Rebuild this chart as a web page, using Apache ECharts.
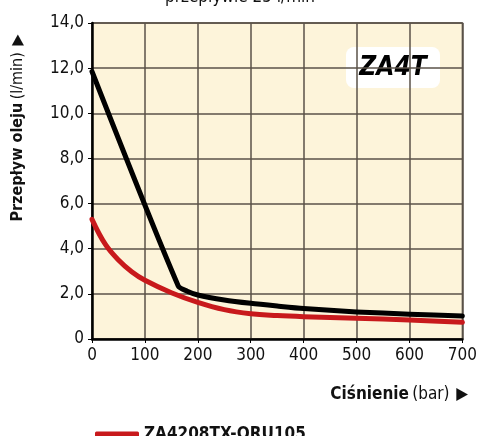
<!DOCTYPE html>
<html>
<head>
<meta charset="utf-8">
<script src="https://cdn.jsdelivr.net/npm/echarts@6/dist/echarts.min.js"></script>
<style>
  html, body { margin: 0; padding: 0; background: #ffffff; }
  #chart { width: 480px; height: 436px; }
</style>
</head>
<body>
<div id="chart"></div>
<script>
// ciśnienie (bar) / przepływ (l/min)
var blackPoints = [
    [0, 11.85], [163, 2.35], [180, 2.12], [200, 1.95], [250, 1.73], [300, 1.58],
    [350, 1.46], [400, 1.35], [500, 1.2], [600, 1.1], [700, 1.02]
];
var redPoints = [
    [0, 5.3], [25, 4.2], [50, 3.5], [75, 2.98], [100, 2.6], [150, 2.05], [200, 1.62],
    [250, 1.3], [300, 1.12], [350, 1.04], [400, 0.99], [500, 0.92], [600, 0.84], [700, 0.74]
];
var redName = 'ZA4208TX-QRU105';
var blackName = 'ZA4208TX';
var yTicks = ['0', '2,0', '4,0', '6,0', '8,0', '10,0', '12,0', '14,0'];

var font = "'Liberation Sans Narrow', 'DejaVu Sans Condensed', 'Roboto', sans-serif";

var chart = echarts.init(document.getElementById('chart'), null, { renderer: 'canvas' });

var option = {
    backgroundColor: '#ffffff',
    animation: false,
    textStyle: { fontFamily: font },
    grid: {
        left: 92, right: 17, top: 23, bottom: 97,
        show: true,
        backgroundColor: '#fdf4da',
        borderColor: '#5a5248',
        borderWidth: 1.5
    },
    legend: {
        data: [redName],
        left: 90, top: 421,
        icon: 'roundRect',
        itemWidth: 44, itemHeight: 6,
        itemGap: 10,
        textStyle: { fontFamily: font, fontSize: 17, fontWeight: 'bold', color: '#111' }
    },
    xAxis: {
        type: 'value',
        min: 0, max: 700, interval: 100,
        axisLine: { show: true, lineStyle: { color: '#000', width: 2.5 } },
        axisTick: { show: true, length: 4, lineStyle: { color: '#000' } },
        axisLabel: { fontFamily: font, fontSize: 17, color: '#111', margin: 8 },
        splitLine: { show: true, lineStyle: { color: '#5a5248', width: 1.5 } }
    },
    yAxis: {
        type: 'value',
        min: 0, max: 14, interval: 2,
        axisLine: { show: true, lineStyle: { color: '#000', width: 2.5 } },
        axisTick: { show: true, length: 4, lineStyle: { color: '#000' } },
        axisLabel: {
            fontFamily: font, fontSize: 17, color: '#111', margin: 8,
            formatter: function (v) { return yTicks[Math.round(v / 2)]; }
        },
        splitLine: { show: true, lineStyle: { color: '#5a5248', width: 1.5 } }
    },
    series: [
        {
            name: blackName,
            type: 'line',
            data: blackPoints,
            smooth: 0.25,
            showSymbol: false,
            lineStyle: { color: '#000', width: 5, cap: 'round', join: 'round' },
            itemStyle: { color: '#000' },
            z: 3
        },
        {
            name: redName,
            type: 'line',
            data: redPoints,
            smooth: 0.4,
            showSymbol: false,
            lineStyle: { color: '#c8191c', width: 5, cap: 'round', join: 'round' },
            itemStyle: { color: '#c8191c' },
            z: 4
        }
    ],
    graphic: [
        {
            type: 'text',
            left: 'center',
            top: -11,
            style: { text: 'przepływie 25 l/min', font: '17px ' + font, fill: '#111' }
        },
        {
            type: 'group',
            left: 346, top: 47,
            children: [
                { type: 'rect', shape: { x: 0, y: 0, width: 94, height: 41, r: 8 }, style: { fill: '#ffffff' } },
                {
                    type: 'text', x: 47, y: 21,
                    style: {
                        text: 'ZA4T', fill: '#000',
                        font: 'italic bold 26px ' + font,
                        align: 'center', verticalAlign: 'middle'
                    }
                }
            ]
        },
        {
            type: 'text',
            x: 18, y: 128,
            rotation: Math.PI / 2,
            style: {
                text: '{b|Przepływ oleju} {n|(l/min)}  {n|▶}',
                align: 'center', verticalAlign: 'middle',
                rich: {
                    b: { font: 'bold 16px ' + font, fill: '#111' },
                    n: { font: '16px ' + font, fill: '#111' }
                }
            }
        },
        {
            type: 'text',
            right: 12, top: 386,
            style: {
                text: '{b|Ciśnienie} {n|(bar)}  {n|▶}',
                rich: {
                    b: { font: 'bold 17px ' + font, fill: '#111' },
                    n: { font: '17px ' + font, fill: '#111' }
                }
            }
        }
    ]
};

chart.setOption(option);
</script>
</body>
</html>
